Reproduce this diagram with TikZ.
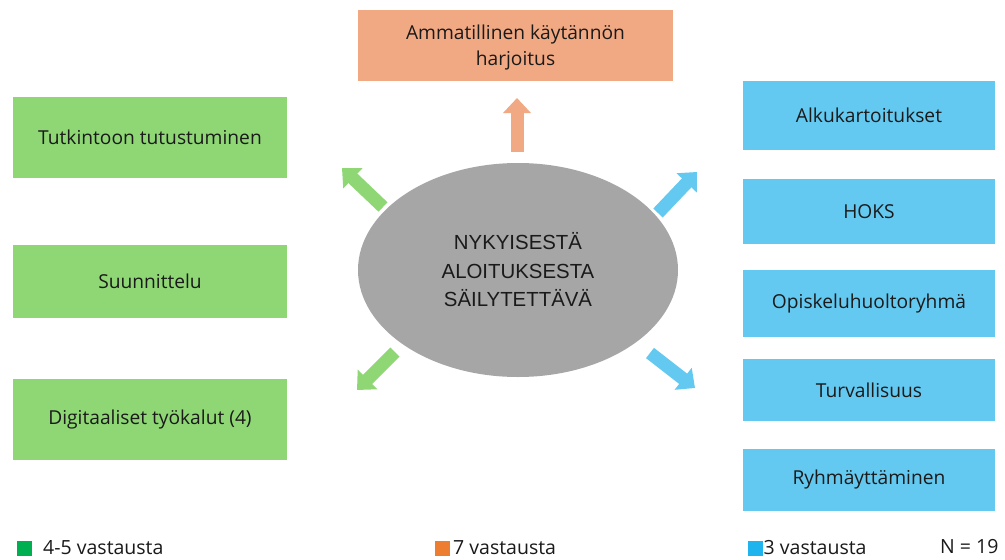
\documentclass[tikz,border=0pt]{standalone}
\usepackage{fontspec}
\setmainfont{Open Sans}
\newfontfamily\arialf{Liberation Sans}
\usetikzlibrary{arrows.meta,shapes.geometric}
\definecolor{boxgreen}{HTML}{8FD775}
\definecolor{boxblue}{HTML}{64C9F0}
\definecolor{boxorange}{HTML}{F1A983}
\definecolor{ellgray}{HTML}{A6A6A6}
\definecolor{txt}{HTML}{1A1A1A}
\definecolor{leggreen}{HTML}{00B050}
\definecolor{legorange}{HTML}{ED7D31}
\definecolor{legblue}{HTML}{1FB4EE}
\begin{document}
\begin{tikzpicture}[x=1pt,y=-1pt,
  box/.style={rectangle, inner sep=0pt, align=center, text=txt,
    font=\fontsize{19.2}{25.5}\selectfont},
  gbox/.style={box, fill=boxgreen, minimum width=274pt},
  bbox/.style={box, fill=boxblue, minimum width=252pt},
  fatarrow/.style={line width=13pt, -{Triangle[width=27pt,length=15pt]}},
  legsq/.style={rectangle, inner sep=0pt, minimum size=15pt},
  legtxt/.style={anchor=west, inner sep=0pt, text=txt, font=\fontsize{19.5}{22}\selectfont}]
\useasboundingbox (0,0) rectangle (1005,560);
\fill[white] (0,0) rectangle (1005,560);

% top box
\node[box, fill=boxorange, minimum width=315pt, minimum height=71pt] (top) at (515.5,45.5) {};
\node[box, align=center] (toptxt) at (515.5,47.5) {Ammatillinen käytännön\\harjoitus};

% green boxes
\node[gbox, minimum height=81pt] (g1) at (150,137.5) {Tutkintoon tutustuminen};
\node[gbox, minimum height=73pt] (g2) at (150,281.5) {Suunnittelu};
\node[gbox, minimum height=81pt] (g3) at (150,419.5) {Digitaaliset työkalut (4)};

% blue boxes
\node[bbox, minimum height=69pt] (b1) at (869,115.5) {Alkukartoitukset};
\node[bbox, minimum height=65pt] (b2) at (869,211.5) {HOKS};
\node[bbox, minimum height=67pt] (b3) at (869,303.5) {Opiskeluhuoltoryhmä};
\node[bbox, minimum height=62pt] (b4) at (869,390) {Turvallisuus};
\node[bbox, minimum height=62pt] (b5) at (869,480) {Ryhmäyttäminen};

% center ellipse
\node[ellipse, fill=ellgray, inner sep=0pt, minimum width=320pt, minimum height=214pt,
  align=center, text=txt, font={\arialf\fontsize{20.4}{28.5}\selectfont}] (c) at (518,270)
  {NYKYISESTÄ\\ALOITUKSESTA\\SÄILYTETTÄVÄ};

% arrow coordinates
\coordinate (aos) at (517,152); \coordinate (aoe) at (517,98);
\coordinate (g1s) at (383,207); \coordinate (g1e) at (342,168);
\coordinate (b1s) at (658,213); \coordinate (b1e) at (697,172);
\coordinate (g3s) at (395,352); \coordinate (g3e) at (357,390);
\coordinate (b4s) at (650,353); \coordinate (b4e) at (695,388);

\draw[fatarrow, boxorange] (aos) -- (aoe);
\draw[fatarrow, boxgreen] (g1s) -- (g1e);
\draw[fatarrow, boxblue] (b1s) -- (b1e);
\draw[fatarrow, boxgreen] (g3s) -- (g3e);
\draw[fatarrow, boxblue] (b4s) -- (b4e);

% legend
\node[legsq, fill=leggreen] (lg) at (24.5,548.5) {};
\node[legtxt] (lgt) at (43,548) {4-5 vastausta};
\node[legsq, fill=legorange] (lo) at (442.5,548.5) {};
\node[legtxt] (lot) at (453,548) {7 vastausta};
\node[legsq, fill=legblue] (lb) at (755,548.5) {};
\node[legtxt] (lbt) at (763.5,548) {3 vastausta};
\node[legtxt] (nn) at (940,547) {N = 19};
\end{tikzpicture}
\end{document}
